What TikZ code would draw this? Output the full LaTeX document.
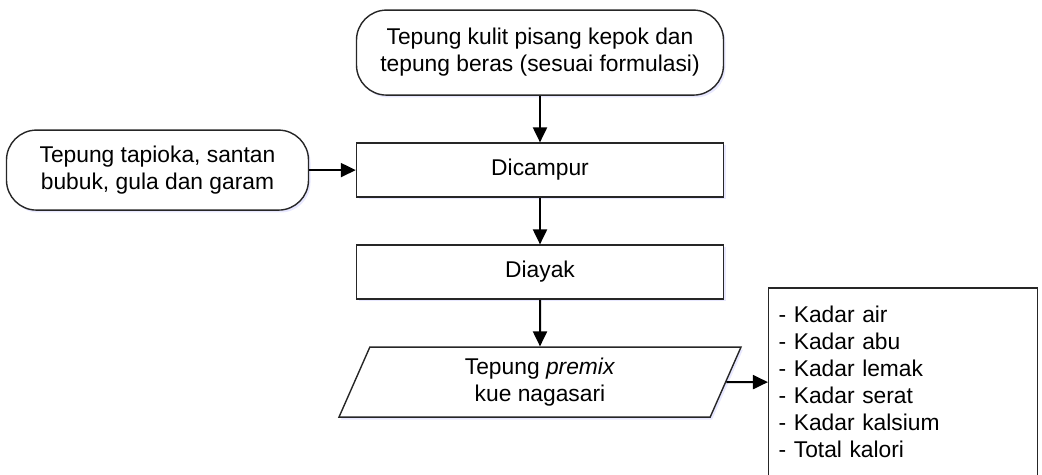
\documentclass[tikz,border=0pt]{standalone}
\usepackage{fontspec}
\setmainfont{Liberation Sans}
\usetikzlibrary{positioning,shapes.geometric,arrows.meta,shadows}

\begin{document}
\begin{tikzpicture}[
	font=\fontsize{11.4}{13.5}\selectfont,
	node distance=23.3pt,
	outline/.style={draw=black!85, line width=0.7pt, fill=white, drop shadow={shadow xshift=1pt, shadow yshift=-1.2pt, fill=blue!30, opacity=0.3}},
	terminal/.style={outline, rounded corners=15pt, align=center},
	process/.style={outline, minimum width=183.5pt, minimum height=27pt},
	data/.style={outline, trapezium, trapezium left angle=63.4, trapezium right angle=116.6, trapezium stretches body, minimum width=201pt, minimum height=35pt, align=center},
	listbox/.style={draw=black!85, line width=0.7pt, align=left, text width=124.5pt, inner xsep=5pt, minimum height=94pt},
	flow/.style={-{Triangle[length=7.5pt,width=7pt]}, line width=1pt}
	]
	\useasboundingbox (0,0) rectangle (521pt,-237.5pt);
	\clip (0,0) rectangle (521pt,-237.5pt);

	\node[terminal, minimum width=183.5pt, minimum height=42.5pt] (flour) at (270pt,-26.3pt) {Tepung kulit pisang kepok dan\\tepung beras (sesuai formulasi)};
	\node[process, below=of flour] (mix) {Dicampur};
	\node[terminal, left=of mix, minimum width=151pt, minimum height=40pt] (extra) {Tepung tapioka, santan\\bubuk, gula dan garam};
	\node[process, below=of mix] (sieve) {Diayak};
	\node[data, below=of sieve] (premix) {Tepung \textit{premix}\\kue nagasari};
	\node[listbox, right=20.8pt of premix] (analysis) {- Kadar air\\- Kadar abu\\- Kadar lemak\\- Kadar serat\\- Kadar kalsium\\- Total kalori};

	\draw[flow] (flour) -- (mix);
	\draw[flow] (extra) -- (mix);
	\draw[flow] (mix) -- (sieve);
	\draw[flow] (sieve) -- (premix);
	\draw[flow] (premix) -- (analysis);
\end{tikzpicture}
\end{document}
